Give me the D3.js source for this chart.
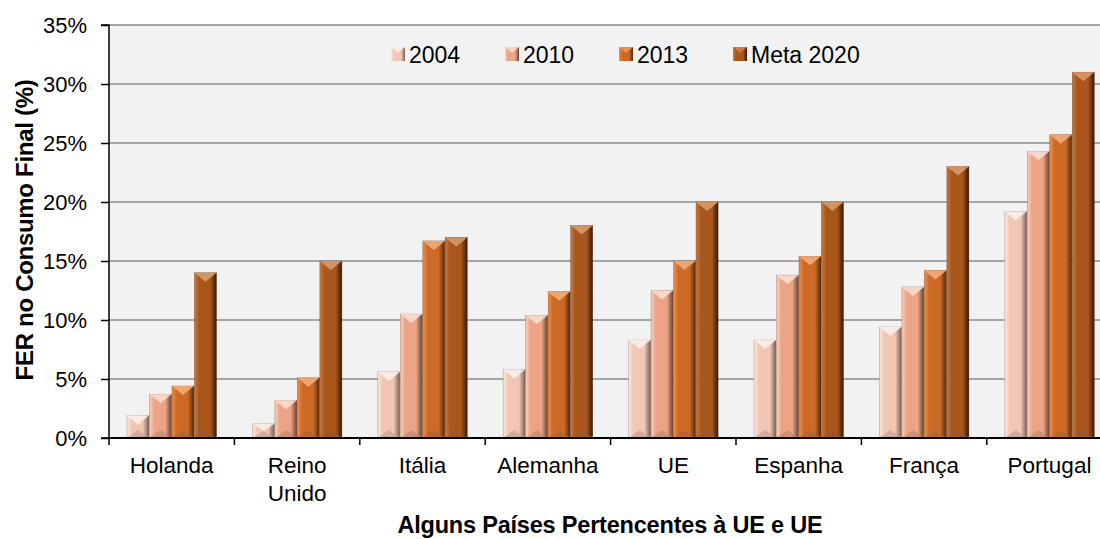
<!DOCTYPE html>
<html>
<head>
<meta charset="utf-8">
<script src="https://cdn.jsdelivr.net/npm/d3@7"></script>
<style>
  body { margin: 0; background: #fff; }
  svg { display: block; font-family: "Liberation Sans", Arial, sans-serif; }
</style>
</head>
<body>
<svg id="chart" width="1100" height="539"></svg>
<script>
// categories and series
const countries = ["Holanda", "Reino Unido", "Itália", "Alemanha", "UE", "Espanha", "França", "Portugal"];
const seriesNames = ["2004", "2010", "2013", "Meta 2020"];
const v2004 = [1.9, 1.2, 5.6, 5.8, 8.3, 8.3, 9.4, 19.2];
const v2010 = [3.7, 3.2, 10.5, 10.4, 12.5, 13.8, 12.8, 24.3];
const v2013 = [4.4, 5.1, 16.7, 12.4, 15.0, 15.4, 14.2, 25.7];
const vMeta = [14, 15, 17, 18, 20, 20, 23, 31];
const yTicks = [0, 5, 10, 15, 20, 25, 30, 35];

// bevel colours per series: light edge, base, dark edge
const palette = [
  { light: "#fbe8df", base: "#f1c6b4", dark: "#7a625a" },
  { light: "#f9d2bf", base: "#eba486", dark: "#6e4434" },
  { light: "#eb9150", base: "#cd6a26", dark: "#5a2a0c" },
  { light: "#c97a3c", base: "#a8561c", dark: "#3c1a05" }
];

const allSeries = [v2004, v2010, v2013, vMeta];
const rows = countries.map((c, i) => ({ country: c, values: allSeries.map((s, k) => ({ key: k, v: s[i] })) }));

const svg = d3.select("#chart");
const plotLeft = 109, plotTop = 25, plotBottom = 438;
const plotRight = plotLeft + 8 * 125.4;

const x0 = d3.scaleBand().domain(countries).range([plotLeft, plotRight]).paddingInner(0).paddingOuter(0);
const x1 = d3.scaleBand().domain(d3.range(4)).range([18, 107.5]).paddingInner(0.02);
const y = d3.scaleLinear().domain([0, 35]).range([plotBottom, plotTop]);

// gradients
const defs = svg.append("defs");
palette.forEach((p, k) => {
  const g = defs.append("linearGradient").attr("id", "grad" + k)
    .attr("x1", "0%").attr("x2", "100%").attr("y1", "0%").attr("y2", "0%");
  g.append("stop").attr("offset", "0%").attr("stop-color", p.light);
  g.append("stop").attr("offset", "22%").attr("stop-color", p.base);
  g.append("stop").attr("offset", "72%").attr("stop-color", p.base);
  g.append("stop").attr("offset", "88%").attr("stop-color", d3.interpolateRgb(p.base, p.dark)(0.6));
  g.append("stop").attr("offset", "100%").attr("stop-color", p.dark);
});

// plot background
svg.append("rect")
  .attr("x", plotLeft).attr("y", plotTop)
  .attr("width", 1100 - plotLeft).attr("height", plotBottom - plotTop)
  .attr("fill", "#f2f2f2");

// gridlines
svg.append("g")
  .selectAll("line")
  .data(yTicks.filter(d => d > 0))
  .join("line")
  .attr("x1", plotLeft).attr("x2", 1100)
  .attr("y1", d => y(d)).attr("y2", d => y(d))
  .attr("stroke", "#a6a6a6")
  .attr("stroke-width", 2);

// bars
const groups = svg.append("g")
  .selectAll("g")
  .data(rows)
  .join("g")
  .attr("transform", d => `translate(${x0(d.country)},0)`);

const bar = groups.selectAll("g")
  .data(d => d.values)
  .join("g");

bar.append("rect")
  .attr("x", d => x1(d.key))
  .attr("y", d => y(d.v))
  .attr("width", x1.bandwidth())
  .attr("height", d => plotBottom - y(d.v))
  .attr("fill", d => `url(#grad${d.key})`)
  .attr("stroke", d => d3.color(palette[d.key].dark).copy({ opacity: 0.5 }))
  .attr("stroke-width", 0.6);

// top bevel chevron
bar.append("path")
  .attr("d", d => {
    const xa = x1(d.key), w = x1.bandwidth(), yt = y(d.v);
    const h = Math.min(9, (plotBottom - yt) / 2);
    return `M${xa},${yt}L${xa + w},${yt}L${xa + w / 2},${yt + h}Z`;
  })
  .attr("fill", d => d3.interpolateRgb(palette[d.key].light, "#ffffff")(0.25))
  .attr("opacity", 0.9);

// bottom bevel
bar.append("path")
  .attr("d", d => {
    const xa = x1(d.key), w = x1.bandwidth(), yt = y(d.v);
    const h = Math.min(8, (plotBottom - yt) / 2);
    return `M${xa},${plotBottom}L${xa + w},${plotBottom}L${xa + w / 2},${plotBottom - h}Z`;
  })
  .attr("fill", d => d3.interpolateRgb(palette[d.key].base, "#6b5b55")(0.35))
  .attr("opacity", 0.7);

// y axis
const yAxis = svg.append("g")
  .attr("transform", `translate(${plotLeft},0)`)
  .call(d3.axisLeft(y).tickValues(yTicks).tickSize(8).tickPadding(14).tickFormat(d => d + "%"));
yAxis.select(".domain").attr("stroke", "#000").attr("stroke-width", 1.5).attr("d", `M-8,${plotTop}H0V${plotBottom}H-8`);
yAxis.selectAll(".tick line").attr("stroke", "#000").attr("stroke-width", 1.5);
yAxis.selectAll("text").attr("font-size", 22).attr("fill", "#000")
  .attr("font-family", "'Liberation Sans', Arial, sans-serif");

// x axis
const xAxis = svg.append("g").attr("transform", `translate(0,${plotBottom})`);
xAxis.append("line")
  .attr("x1", plotLeft).attr("x2", 1100).attr("y1", 0).attr("y2", 0)
  .attr("stroke", "#000").attr("stroke-width", 2);
xAxis.selectAll("line.tk")
  .data(countries)
  .join("line")
  .attr("class", "tk")
  .attr("x1", d => x0(d)).attr("x2", d => x0(d))
  .attr("y1", 0).attr("y2", 7)
  .attr("stroke", "#000").attr("stroke-width", 1.5);
xAxis.selectAll("text.cat")
  .data(countries)
  .join("text")
  .attr("class", "cat")
  .attr("text-anchor", "middle")
  .attr("font-size", 22.5)
  .attr("x", d => x0(d) + x0.bandwidth() / 2)
  .attr("y", 35)
  .each(function (d) {
    const parts = d === "Reino Unido" ? ["Reino", "Unido"] : [d];
    const t = d3.select(this);
    parts.forEach((p, i) => {
      t.append("tspan")
        .attr("x", x0(d) + x0.bandwidth() / 2)
        .attr("dy", i === 0 ? 0 : 28)
        .text(p);
    });
  });

// axis titles
svg.append("text")
  .attr("transform", "translate(33,230) rotate(-90)")
  .attr("text-anchor", "middle")
  .attr("font-size", 24)
  .attr("font-weight", "bold")
  .attr("letter-spacing", -0.3)
  .text("FER no Consumo Final (%)");

svg.append("text")
  .attr("x", 610).attr("y", 533)
  .attr("text-anchor", "middle")
  .attr("font-size", 23.5)
  .attr("font-weight", "bold")
  .attr("letter-spacing", -0.2)
  .text("Alguns Países Pertencentes à UE e UE");

// legend
const legendX = [391, 505, 619, 733];
const legend = svg.append("g")
  .selectAll("g")
  .data(seriesNames)
  .join("g")
  .attr("transform", (d, i) => `translate(${legendX[i]},54)`);
legend.append("rect")
  .attr("x", 0).attr("y", -7)
  .attr("width", 14).attr("height", 14)
  .attr("fill", (d, i) => `url(#grad${i})`);
legend.append("path")
  .attr("d", "M0,-7L14,-7L7,-1Z")
  .attr("fill", (d, i) => palette[i].light);
legend.append("text")
  .attr("x", 18).attr("y", 9)
  .attr("font-size", 23)
  .text(d => d);
</script>
</body>
</html>
